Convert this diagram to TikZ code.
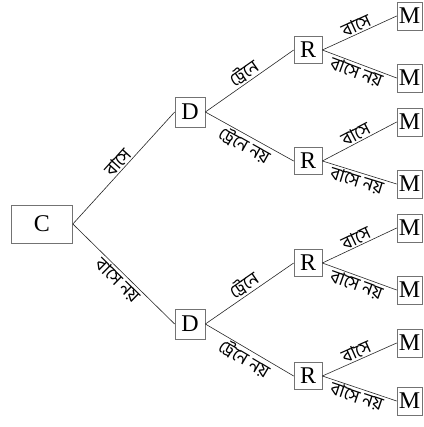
\documentclass[tikz,border=0pt]{standalone}
\usepackage{fontspec}
\setmainfont{Liberation Serif}
\newfontfamily\bn[Script=Bengali]{Hind Siliguri}
\begin{document}
\begin{tikzpicture}[x=1pt,y=-1pt,
  box/.style={draw=black!55, line width=0.7pt, inner sep=0pt, text=black,
    font=\fontsize{24}{24}\selectfont},
  cbox/.style={box, minimum width=61pt, minimum height=38pt},
  dbox/.style={box, minimum width=30pt, minimum height=30pt},
  rbox/.style={box, minimum width=28pt, minimum height=27pt},
  mbox/.style={box, minimum width=25pt, minimum height=28pt},
  link/.style={draw=black!85, line width=0.6pt},
  lab/.style={font=\bn\fontsize{18}{18}\selectfont, inner sep=1.5pt, sloped, midway}
]
\useasboundingbox (0,0) rectangle (423,427);

% decision nodes
\node[cbox] (C) at (42,224) {C};
\node[dbox] (D1) at (190,112) {D};
\node[dbox] (D2) at (190,324) {D};
\node[rbox] (R1) at (308,50) {R};
\node[rbox] (R2) at (308,161) {R};
\node[rbox] (R3) at (308,263) {R};
\node[rbox] (R4) at (308,376) {R};
\node[mbox] (M1) at (409.5,16) {M};
\node[mbox] (M2) at (409.5,78) {M};
\node[mbox] (M3) at (409.5,122) {M};
\node[mbox] (M4) at (409.5,184) {M};
\node[mbox] (M5) at (409.5,228) {M};
\node[mbox] (M6) at (409.5,290) {M};
\node[mbox] (M7) at (409.5,343) {M};
\node[mbox] (M8) at (409.5,401) {M};

% first level
\draw[link] (C.east) -- node[lab, above] {বাসে} (D1.west);
\draw[link] (C.east) -- node[lab, below] {বাসে নয়} (D2.west);

% second level
\foreach \d/\a/\b in {D1/R1/R2, D2/R3/R4}{
  \draw[link] (\d.east) -- node[lab, above] {ট্রেনে} (\a.west);
  \draw[link] (\d.east) -- node[lab, below] {ট্রেনে নয়} (\b.west);
}

% third level
\foreach \r/\a/\b in {R1/M1/M2, R2/M3/M4, R3/M5/M6, R4/M7/M8}{
  \draw[link] (\r.east) -- node[lab, above] {বাসে} (\a.west);
  \draw[link] (\r.east) -- node[lab, below] {বাসে নয়} (\b.west);
}
\end{tikzpicture}
\end{document}
